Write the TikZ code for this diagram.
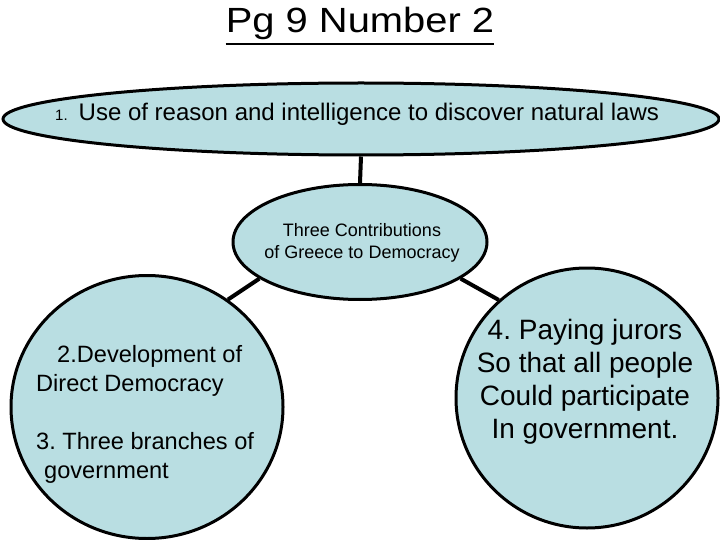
\documentclass[tikz,border=0pt]{standalone}
\usepackage{fontspec}
\setmainfont{Liberation Sans}
\usepackage{xcolor}
\usepackage{graphicx}
\usepackage{tikz}
\usetikzlibrary{shapes.geometric}
\definecolor{bubc}{HTML}{B9DEE2}
\tikzset{
  bub/.style={ellipse,draw=black,line width=3pt,fill=bubc,inner sep=0pt},
  ln/.style={line width=4pt,black},
  txt/.style={inner sep=0pt,text=black}
}
\frenchspacing

\begin{document}
\begin{tikzpicture}[x=1pt,y=-1pt]
\useasboundingbox (0,0) rectangle (720,540);
% title
\node[txt,anchor=base,font=\fontsize{35}{40}\selectfont] (title) at (360,33) {\scalebox{1.14}[1]{Pg 9 Number 2}};
\draw[line width=2.5pt] ([yshift=-11pt]title.base west) -- ([yshift=-11pt]title.base east);
% bubbles
\node[bub,minimum width=716pt,minimum height=72pt] (top) at (361,119) {};
\node[bub,minimum width=254pt,minimum height=115pt] (mid) at (360,242) {};
\node[bub,minimum width=272pt,minimum height=263pt] (left) at (147,407) {};
\node[bub,minimum width=262pt,minimum height=260pt] (right) at (587,398) {};
% links
\draw[ln] (top.south) -- (mid.north);
\draw[ln] (mid.200) -- (left.53);
\draw[ln] (mid.340) -- (right.132);
% texts
\node[txt,anchor=base west] (toptxt) at (55,121) {\fontsize{15}{18}\selectfont 1.\hspace{11pt}\fontsize{24}{29}\selectfont Use of reason and intelligence to discover natural laws};
\node[txt,align=center,font=\fontsize{18}{22}\selectfont] (midtxt) at (362,243) {Three Contributions\\of Greece to Democracy};
\node[txt,align=left,anchor=north west,font=\fontsize{23.6}{29}\selectfont] (lefttxt) at (36,345) {\hspace*{21pt}2.Development of\\Direct Democracy\\[29pt]3. Three branches of\\\hspace*{8pt}government};
\node[txt,align=center,font=\fontsize{28}{33}\selectfont] (righttxt) at (585,382) {4. Paying jurors\\So that all people\\Could participate\\In government.};
\end{tikzpicture}
\end{document}
